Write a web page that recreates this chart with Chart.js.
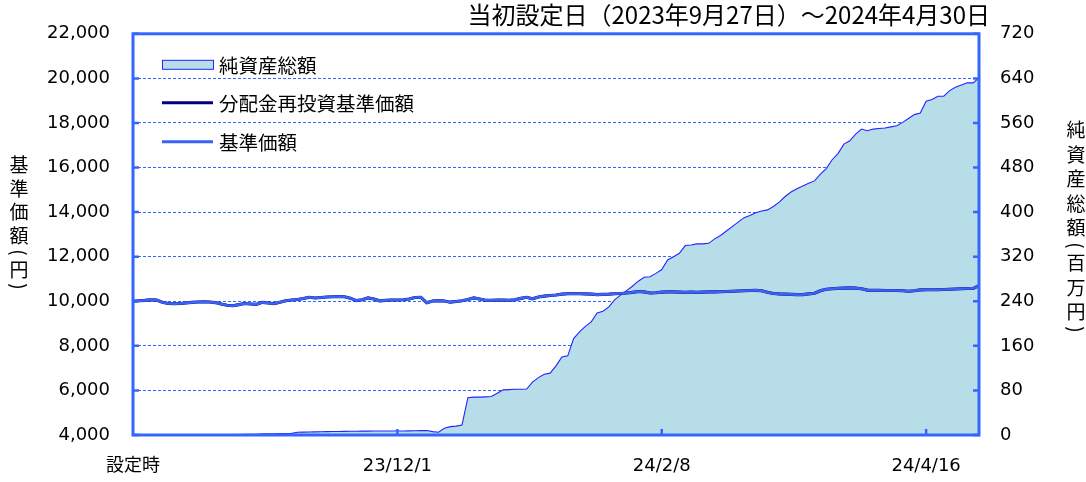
<!DOCTYPE html>
<html><head><meta charset="utf-8">
<script src="https://cdn.jsdelivr.net/npm/chart.js@4/dist/chart.umd.min.js"></script>
<style>html,body{margin:0;padding:0;background:#fff}#wrap{width:1086px;height:482px;position:relative}</style>
</head><body><div id="wrap"><canvas id="c" width="1086" height="482"></canvas></div>
<script>
// ---- text ----
const chartTitle = '当初設定日（2023年9月27日）～2024年4月30日';
const leftAxisTitle = ['基','準','価','額','（','円','）'];
const rightAxisTitle = ['純','資','産','総','額','（','百','万','円','）'];
const legendLabels = ['純資産総額','分配金再投資基準価額','基準価額'];
const xTickLabels = ['設定時','23/12/1','24/2/8','24/4/16'];
const leftTicks = [4000,6000,8000,10000,12000,14000,16000,18000,20000,22000];
const rightTicks = [0,80,160,240,320,400,480,560,640,720];

// ---- categories: 設定時 + trading days 2023/9/27 - 2024/4/30 ----
const holidays = ['2023-10-09','2023-11-03','2023-11-23','2024-01-01','2024-01-02','2024-01-03','2024-01-08','2024-02-12','2024-02-23','2024-03-20','2024-04-29'];
const categories = ['設定時'];
(function(){
  const d = new Date(2023, 8, 27), end = new Date(2024, 3, 30);
  while (d <= end) {
    const wd = d.getDay();
    const iso = d.getFullYear()+'-'+String(d.getMonth()+1).padStart(2,'0')+'-'+String(d.getDate()).padStart(2,'0');
    if (wd !== 0 && wd !== 6 && !holidays.includes(iso)) {
      categories.push(String(d.getFullYear()).slice(2)+'/'+(d.getMonth()+1)+'/'+d.getDate());
    }
    d.setDate(d.getDate()+1);
  }
})();

// ---- series ----
const baseNav = [
10000,10020,10040,10070,10060,9960,9900,9890,9900,9920,
9950,9970,9980,9970,9940,9880,9820,9800,9850,9900,
9880,9860,9950,9920,9890,9960,10020,10060,10080,10120,
10180,10150,10170,10190,10200,10210,10200,10140,10030,10070,
10150,10100,10020,10040,10060,10060,10070,10100,10170,10180,
9930,10010,10030,10010,9960,9990,10020,10080,10150,10100,
10040,10040,10050,10060,10040,10070,10130,10180,10110,10190,
10230,10260,10280,10320,10340,10350,10340,10330,10320,10300,
10310,10320,10340,10350,10370,10400,10440,10420,10370,10380,
10410,10420,10420,10410,10400,10410,10400,10410,10420,10420,
10430,10440,10450,10460,10470,10480,10490,10470,10400,10350,
10330,10320,10310,10300,10300,10330,10360,10470,10540,10560,
10580,10590,10600,10590,10560,10500,10490,10490,10480,10480,
10480,10470,10450,10470,10510,10520,10520,10520,10530,10540,
10550,10560,10570,10580,10700];
// no distributions were paid, so the reinvested NAV equals the NAV
const reinvestedNav = [
10000,10020,10040,10070,10060,9960,9900,9890,9900,9920,
9950,9970,9980,9970,9940,9880,9820,9800,9850,9900,
9880,9860,9950,9920,9890,9960,10020,10060,10080,10120,
10180,10150,10170,10190,10200,10210,10200,10140,10030,10070,
10150,10100,10020,10040,10060,10060,10070,10100,10170,10180,
9930,10010,10030,10010,9960,9990,10020,10080,10150,10100,
10040,10040,10050,10060,10040,10070,10130,10180,10110,10190,
10230,10260,10280,10320,10340,10350,10340,10330,10320,10300,
10310,10320,10340,10350,10370,10400,10440,10420,10370,10380,
10410,10420,10420,10410,10400,10410,10400,10410,10420,10420,
10430,10440,10450,10460,10470,10480,10490,10470,10400,10350,
10330,10320,10310,10300,10300,10330,10360,10470,10540,10560,
10580,10590,10600,10590,10560,10500,10490,10490,10480,10480,
10480,10470,10450,10470,10510,10520,10520,10520,10530,10540,
10550,10560,10570,10580,10700];
const netAssets = [
0,0.3,0.3,0.4,0.4,0.5,0.5,0.5,0.6,0.6,
0.7,0.7,0.8,0.8,0.8,0.9,0.9,1.0,1.0,1.1,
1.1,1.2,2,2.2,2.3,2.5,2.8,3,5,5.2,
5.5,5.6,5.8,6,6.2,6.4,6.5,6.6,6.8,7,
7,7.1,7.1,7.2,7.2,7.2,7.3,7.4,7.6,7.8,
8,6,5,12,15,16,18,67,68,68,
68.5,69,75,81,81.5,82,82,82.5,95,103,
109,111,124,140,142,173,185,195,203,219,
222,230,243,251,259,267,276,283,284,290,
297,314,320,326,340,341,343,343,344,352,
358,366,374,382,390,394,399,402,404,410,
418,428,436,442,447,452,456,468,478,494,
505,522,528,540,549,546,549,550,551,553,
555,561,568,575,578,599,602,608,608,618,
624,628,632,632,641];

// ---- colours ----
const frameBlue = '#3366ff';
const navBlue = '#3a63f5';
const navy = '#000080';
const areaFill = '#b7dde8';
const areaLine = '#2424ff';

const FONT = '"DejaVu Sans","Noto Sans CJK JP",sans-serif';
const CJK = '"Noto Sans CJK JP","DejaVu Sans",sans-serif';

const decor = {
  id: 'decor',
  afterDatasetsDraw(chart) {
    const {ctx, chartArea: ca, scales} = chart;
    ctx.save();
    ctx.strokeStyle = frameBlue; ctx.lineWidth = 3;
    ctx.strokeRect(ca.left, ca.top, ca.right - ca.left, ca.bottom - ca.top);
    ctx.lineWidth = 2.5;
    ctx.beginPath();
    leftTicks.forEach(v => { const p = scales.y.getPixelForValue(v); ctx.moveTo(ca.left, p); ctx.lineTo(ca.left + 6, p); });
    rightTicks.forEach(v => { const p = scales.y2.getPixelForValue(v); ctx.moveTo(ca.right, p); ctx.lineTo(ca.right - 6, p); });
    categories.forEach((c, i) => { if (i > 0 && xTickLabels.includes(c)) { const p = scales.x.getPixelForValue(i); ctx.moveTo(p, ca.bottom); ctx.lineTo(p, ca.bottom - 6); } });
    ctx.stroke();
    ctx.restore();
  },
  afterDraw(chart) {
    const {ctx, chartArea: ca} = chart;
    ctx.save();
    ctx.fillStyle = '#000';
    ctx.font = '24px ' + CJK;
    ctx.textAlign = 'right'; ctx.textBaseline = 'middle';
    ctx.fillText(chartTitle, 990, 15);
    const lx = ca.left + 29, lw = 51, tx = ca.left + 86;
    ctx.font = '19.5px ' + CJK; ctx.textAlign = 'left';
    const ly = [ca.top + 31, ca.top + 69, ca.top + 108];
    ctx.fillStyle = areaFill; ctx.fillRect(lx, ly[0] - 4.5, lw, 9);
    ctx.strokeStyle = areaLine; ctx.lineWidth = 1; ctx.strokeRect(lx + 0.5, ly[0] - 4.5, lw, 9);
    ctx.lineWidth = 3;
    ctx.strokeStyle = navy; ctx.beginPath(); ctx.moveTo(lx, ly[1]); ctx.lineTo(lx + lw, ly[1]); ctx.stroke();
    ctx.strokeStyle = navBlue; ctx.beginPath(); ctx.moveTo(lx, ly[2]); ctx.lineTo(lx + lw, ly[2]); ctx.stroke();
    ctx.fillStyle = '#000';
    legendLabels.forEach((t, i) => ctx.fillText(t, tx, ly[i] + 1));
    ctx.textAlign = 'center';
    const isParen = c => c === '（' || c === '）';
    const vert = (chars, x, y0, step, pstep) => {
      let y = y0;
      chars.forEach((ch, i) => {
        ctx.font = '19px ' + CJK;
        if (isParen(ch)) {
          ctx.save(); ctx.translate(x, y); ctx.rotate(Math.PI / 2);
          ctx.fillText(ch === '（' ? '(' : ')', 0, 0);
          ctx.restore();
        } else {
          ctx.fillText(ch, x, y);
        }
        const nx = chars[i + 1];
        y += (isParen(ch) || (nx && isParen(nx))) ? pstep : step;
      });
    };
    vert(leftAxisTitle, 19, 165, 23.5, 17);
    vert(rightAxisTitle, 1076, 130, 24.5, 17.5);
    ctx.restore();
  }
};

new Chart(document.getElementById('c'), {
  type: 'line',
  data: {
    labels: categories,
    datasets: [
      { label: legendLabels[2], data: baseNav, yAxisID: 'y', borderColor: navBlue, borderWidth: 2.6, pointRadius: 0, fill: false, tension: 0, order: 0 },
      { label: legendLabels[1], data: reinvestedNav, yAxisID: 'y', borderColor: navy, borderWidth: 3.1, pointRadius: 0, fill: false, tension: 0, order: 1 },
      { label: legendLabels[0], data: netAssets, yAxisID: 'y2', borderColor: areaLine, backgroundColor: areaFill, borderWidth: 1.1, pointRadius: 0, fill: 'origin', tension: 0, order: 2 }
    ]
  },
  options: {
    responsive: false, animation: false, devicePixelRatio: 1,
    layout: { padding: { top: 33, left: 0, right: 0, bottom: 0 } },
    plugins: { legend: { display: false }, tooltip: { enabled: false }, title: { display: false } },
    scales: {
      x: {
        type: 'category', offset: false,
        grid: { display: false, drawTicks: false }, border: { display: false },
        ticks: { autoSkip: false, maxRotation: 0, padding: 21, color: '#000', font: { family: FONT, size: 18 },
          callback: function(v, i) { const l = categories[i]; return xTickLabels.includes(l) ? l : ''; } },
        afterFit: s => { s.height = 47; }
      },
      y: {
        position: 'left', min: 4000, max: 22000,
        afterBuildTicks: s => { s.ticks = leftTicks.map(v => ({ value: v })); },
        grid: { color: frameBlue, lineWidth: 1, drawTicks: false }, border: { display: false, dash: [3, 2] },
        ticks: { padding: 23, color: '#000', font: { family: FONT, size: 18 }, callback: v => v.toLocaleString('en-US') },
        afterFit: s => { s.width = 133; }
      },
      y2: {
        position: 'right', min: 0, max: 720,
        afterBuildTicks: s => { s.ticks = rightTicks.map(v => ({ value: v })); },
        grid: { drawOnChartArea: false, drawTicks: false }, border: { display: false },
        ticks: { padding: 21, color: '#000', font: { family: FONT, size: 18 }, callback: v => String(v) },
        afterFit: s => { s.width = 107; }
      }
    }
  },
  plugins: [decor]
});
</script></body></html>
